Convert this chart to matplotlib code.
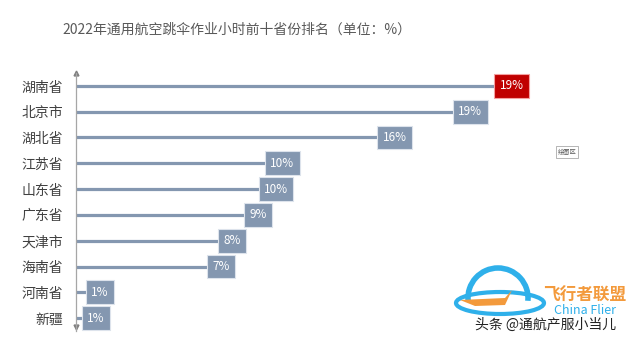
import matplotlib.pyplot as plt
from matplotlib.patches import Arc, Ellipse, Polygon

plt.rcParams['font.family'] = ['Noto Sans CJK SC', 'DejaVu Sans']

provinces = ['湖南省', '北京市', '湖北省', '江苏省', '山东省', '广东省', '天津市', '海南省', '河南省', '新疆']
values = [20.9, 19.0, 15.5, 10.3, 10.0, 9.0, 7.8, 7.3, 1.7, 1.5]
labels = ['19%', '19%', '16%', '10%', '10%', '9%', '8%', '7%', '1%', '1%']
title = '2022年通用航空跳伞作业小时前十省份排名（单位：%）'

bar_c = '#8497B0'

fig = plt.figure(figsize=(6.4, 3.41), dpi=100)
ax = fig.add_axes([76 / 640, 10 / 341, 544 / 640, 258 / 341])

y = list(range(len(provinces)))
for i, (v, lab) in enumerate(zip(values, labels)):
    ax.plot([0, v], [i, i], color=bar_c, lw=2.3, solid_capstyle='butt', zorder=2)
    top = i == 0
    ax.annotate(lab, xy=(v, i), xytext=(-4, 0), textcoords='offset pixels',
                ha='right', va='center', fontsize=8.5, color='white', zorder=3,
                bbox=dict(boxstyle='square,pad=0.45',
                          fc='#C00000' if top else bar_c,
                          ec='#F4A0A0' if top else '#DDE3EC', lw=0.8))

ax.set_xlim(0, 544 / 21.6)
ax.set_ylim(9.5, -0.5)
ax.set_yticks(y)
ax.set_yticklabels(provinces, fontsize=10, color='#404040')
ax.tick_params(axis='y', length=0, pad=9)
ax.set_xticks([])
for s in ['top', 'right', 'bottom']:
    ax.spines[s].set_visible(False)
ax.spines['left'].set_color('#A6A6A6')
ax.spines['left'].set_linewidth(0.9)
ax.plot(0, 1, marker='^', color='#808080', ms=3.5, transform=ax.transAxes, clip_on=False)
ax.plot(0, 0.015, marker='v', color='#808080', ms=3.5, transform=ax.transAxes, clip_on=False)

fig.text(62 / 640, 1 - 30 / 341, title, fontsize=10, color='#595959', va='center', ha='left')

# "绘图区" tooltip
fig.text(567 / 640, 1 - 152 / 341, '绘图区', fontsize=4.5, color='#555555', ha='center', va='center',
         bbox=dict(boxstyle='square,pad=0.3', fc='white', ec='#999999', lw=0.5))

# watermark logo
fig.add_artist(Arc((498 / 640, 1 - 298 / 341), 60 / 640, 60 / 341, theta1=-10, theta2=190,
                   color='#2FB0EA', lw=4, transform=fig.transFigure))
fig.add_artist(Ellipse((500 / 640, 1 - 303 / 341), 88 / 640, 22 / 341, fill=False,
                       ec='#2FB0EA', lw=3, transform=fig.transFigure))
fig.add_artist(Polygon([(460 / 640, 1 - 300 / 341), (505 / 640, 1 - 298 / 341),
                        (512 / 640, 1 - 290 / 341), (505 / 640, 1 - 305 / 341),
                        (475 / 640, 1 - 306 / 341)], closed=True, fc='#F39A3C', ec='none',
                       transform=fig.transFigure))
fig.text(585 / 640, 1 - 296 / 341, '飞行者联盟', fontsize=12, color='#F39A3C', ha='center', va='center',
         fontweight='bold')
fig.text(585 / 640, 1 - 310 / 341, 'China Flier', fontsize=9, color='#2FB0EA', ha='center', va='center')
fig.text(546 / 640, 1 - 325 / 341, '头条 @通航产服小当儿', fontsize=10, color='#222222', ha='center',
         va='center')

fig.savefig('out.png', dpi=100, facecolor='white')
